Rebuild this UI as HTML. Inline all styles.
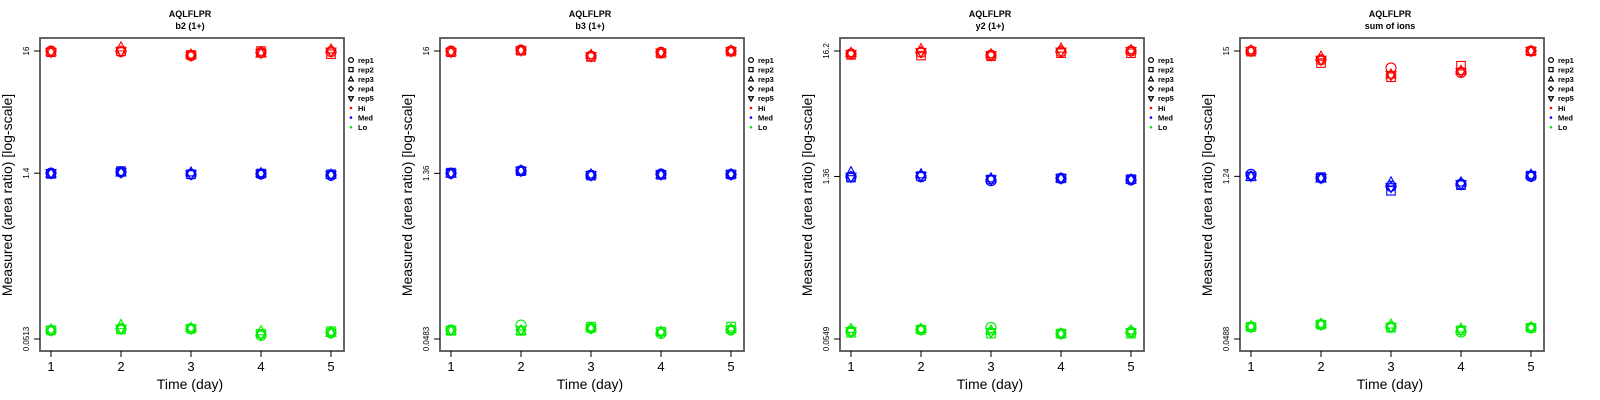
<!DOCTYPE html>
<html><head><meta charset="utf-8"><style>
html,body{margin:0;padding:0;background:#fff;}
svg{display:block;font-family:"Liberation Sans",sans-serif;}
</style></head><body>
<svg id="chart" width="1600" height="400" xmlns="http://www.w3.org/2000/svg"></svg>
<script>
const days = [1,2,3,4,5];
const panelTitles = ["b2 (1+)","b3 (1+)","y2 (1+)","sum of ions"];
const tickLabels = [["16","1.4","0.0513"],["16","1.36","0.0483"],["16.2","1.36","0.0549"],["15","1.24","0.0488"]];
const tickValues = [[16,1.4,0.0513],[16,1.36,0.0483],[16.2,1.36,0.0549],[15,1.24,0.0488]];
const legendLabels = ["rep1","rep2","rep3","rep4","rep5","Hi","Med","Lo"];
// values[panel][day] = 5 reps
const hiVals = [
 [[16,15.6,15.8,16,15.7],[15.8,15.9,17.2,16,15.9],[14.6,14.8,14.9,14.7,14.6],[15.5,16,15.2,15.5,15.4],[15.8,15,16.5,15.9,15.8]],
 [[16,15.6,15.8,16,15.7],[16.3,16.1,16.2,16.3,16.2],[14.4,14.2,14.8,14.5,14.4],[15.6,15.2,15.5,15.6,15.5],[16,15.8,16.1,16,15.9]],
 [[15.3,15,15.6,15.4,15.3],[15.8,14.8,16.8,16,15.9],[14.9,14.6,15.2,15,14.9],[16,15.5,17,16.2,16],[16.2,15.5,16.5,16.2,16.2]],
 [[15,14.8,15.2,15,15],[12.6,11.8,13.4,12.6,12.6],[10.7,8.9,9.4,9.3,9.3],[9.8,11.2,10.1,9.9,9.9],[15,14.9,15,15.1,15]]
];
const medVals = [
 [[1.4,1.38,1.39,1.4,1.4],[1.43,1.46,1.42,1.43,1.42],[1.37,1.37,1.42,1.38,1.37],[1.38,1.39,1.4,1.39,1.38],[1.34,1.37,1.36,1.36,1.35]],
 [[1.36,1.38,1.35,1.37,1.36],[1.43,1.42,1.44,1.43,1.43],[1.31,1.3,1.33,1.31,1.31],[1.34,1.32,1.33,1.34,1.33],[1.33,1.33,1.34,1.33,1.33]],
 [[1.35,1.33,1.48,1.36,1.35],[1.35,1.37,1.42,1.38,1.37],[1.25,1.28,1.31,1.28,1.28],[1.31,1.31,1.31,1.31,1.31],[1.27,1.29,1.28,1.28,1.28]],
 [[1.29,1.24,1.23,1.25,1.25],[1.2,1.22,1.19,1.2,1.2],[1.02,0.93,1.1,1.0,1.0],[1.06,1.04,1.1,1.07,1.06],[1.24,1.26,1.28,1.25,1.25]]
];
const loVals = [
 [[0.061,0.061,0.062,0.061,0.061],[0.063,0.062,0.068,0.063,0.063],[0.063,0.063,0.064,0.063,0.063],[0.055,0.057,0.06,0.056,0.056],[0.058,0.06,0.058,0.058,0.058]],
 [[0.058,0.057,0.057,0.058,0.058],[0.064,0.057,0.057,0.058,0.058],[0.06,0.062,0.06,0.06,0.06],[0.054,0.056,0.056,0.055,0.055],[0.058,0.062,0.059,0.058,0.058]],
 [[0.064,0.062,0.067,0.064,0.064],[0.066,0.066,0.067,0.066,0.066],[0.069,0.061,0.065,0.063,0.063],[0.061,0.061,0.061,0.061,0.061],[0.063,0.061,0.065,0.063,0.063]],
 [[0.062,0.062,0.063,0.062,0.062],[0.065,0.065,0.066,0.065,0.065],[0.062,0.061,0.065,0.062,0.062],[0.056,0.058,0.06,0.058,0.058],[0.061,0.061,0.062,0.061,0.061]]
];
const levelColors = ["#ff0000","#0000ff","#00ee00"];
const NS="http://www.w3.org/2000/svg";
const svg=document.getElementById('chart');
function mk(tag,attrs,parent){const e=document.createElementNS(NS,tag);for(const k in attrs)e.setAttribute(k,attrs[k]);(parent||svg).appendChild(e);return e;}
const L=40,R=344,T=38,B=351,X1=51,X5=331,YT=51,YB=339;
function marker(g,shape,cx,cy,color,s,w){
  let e;
  if(shape===0) e=mk('circle',{cx:cx,cy:cy,r:s,fill:'none',stroke:color,'stroke-width':w},g);
  else if(shape===1) e=mk('rect',{x:cx-s*0.85,y:cy-s*0.85,width:s*1.7,height:s*1.7,fill:'none',stroke:color,'stroke-width':w},g);
  else if(shape===2) e=mk('polygon',{points:`${cx},${cy-s*1.1} ${cx-s},${cy+s*0.7} ${cx+s},${cy+s*0.7}`,fill:'none',stroke:color,'stroke-width':w},g);
  else if(shape===3) e=mk('polygon',{points:`${cx},${cy-s} ${cx+s},${cy} ${cx},${cy+s} ${cx-s},${cy}`,fill:'none',stroke:color,'stroke-width':w},g);
  else e=mk('polygon',{points:`${cx},${cy+s*1.1} ${cx-s},${cy-s*0.7} ${cx+s},${cy-s*0.7}`,fill:'none',stroke:color,'stroke-width':w},g);
  return e;
}
for(let p=0;p<4;p++){
  const ox=p*400;
  const g=mk('g',{transform:`translate(${ox},0)`});
  
  
  const tv=tickValues[p];
  const lt=Math.log10(tv[0]),lb=Math.log10(tv[2]);
  const ys=v=>YT+(lt-Math.log10(v))/(lt-lb)*(YB-YT);
  const xs=d=>X1+(d-1)*(X5-X1)/4;
  let t=mk('text',{x:190,y:17,'text-anchor':'middle','font-size':9,'font-weight':'bold'},g);t.textContent="AQLFLPR";
  
  t=mk('text',{x:190,y:29,'text-anchor':'middle','font-size':9,'font-weight':'bold'},g);t.textContent=panelTitles[p];
  
  const box=mk('rect',{x:L,y:T,width:R-L,height:B-T,fill:'none',stroke:'#555','stroke-width':1.8},g);
  
  days.forEach(d=>{
    mk('line',{x1:xs(d),x2:xs(d),y1:B,y2:B+6,stroke:'#000','stroke-width':1},g);
    const tx=mk('text',{x:xs(d),y:371,'text-anchor':'middle','font-size':13},g);tx.textContent=d;
    
  });
  tv.forEach((v,i)=>{
    const y=ys(v);
    mk('line',{x1:L-6,x2:L,y1:y,y2:y,stroke:'#000','stroke-width':1},g);
    const tx=mk('text',{x:0,y:0,'text-anchor':'middle','font-size':8,transform:`translate(29,${y}) rotate(-90)`},g);tx.textContent=tickLabels[p][i];
    
  });
  t=mk('text',{x:190,y:389,'text-anchor':'middle','font-size':14},g);t.textContent="Time (day)";
  
  t=mk('text',{x:0,y:0,'text-anchor':'middle','font-size':14,transform:'translate(12,195) rotate(-90)'},g);t.textContent="Measured (area ratio) [log-scale]";
  
  [hiVals,medVals,loVals].forEach((arr,li)=>{
    arr[p].forEach((reps,di)=>{
      reps.forEach((v,ri)=>{
        const m=marker(g,ri,xs(days[di]),ys(v),levelColors[li],5,1.1);
        
        
      });
    });
  });
  legendLabels.forEach((lab,i)=>{
    const y=60+i*9.6;
    let m;
    if(i<5) m=marker(g,i,351,y,'#000',2.4,1.2);
    else m=mk('circle',{cx:351,cy:y,r:1.3,fill:levelColors[i-5]},g);
    
    
    const tx=mk('text',{x:358,y:y+2.8,'font-size':7.5,'font-weight':'bold'},g);tx.textContent=lab;
    
  });
}
</script>
</body></html>
